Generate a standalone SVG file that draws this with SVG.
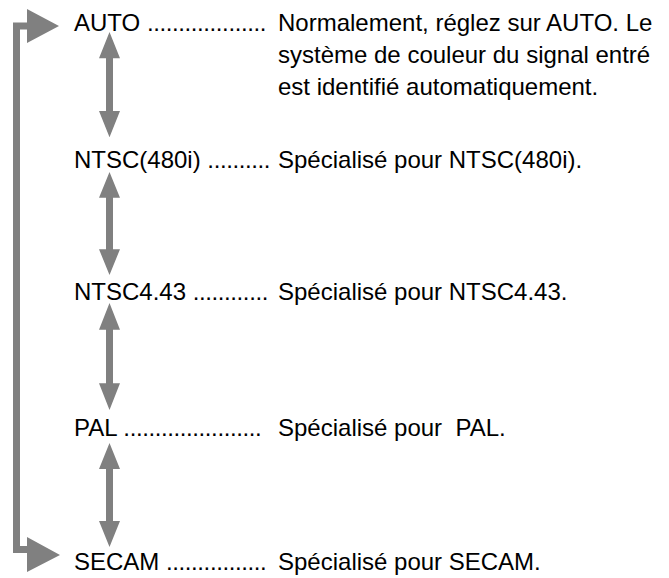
<svg xmlns="http://www.w3.org/2000/svg" width="669" height="578" viewBox="0 0 669 578">
<style>
text{font-family:"Liberation Sans",Arial,sans-serif;font-size:24px;fill:#000;white-space:pre}
.d{letter-spacing:-0.4px}
.c{fill:#808080;stroke:none}
</style>
<defs>
<path id="dbl" d="M0,0 L10.5,26 L3.5,26 L3.5,78 L10.5,78 L0,104 L-10.5,78 L-3.5,78 L-3.5,26 L-10.5,26 Z"/>
</defs>
<rect width="669" height="578" fill="#fff"/>
<g id="connectors" class="c">
<path d="M13,22.5 L27,22.5 L27,9 L59,26 L27,43 L27,29.5 L20,29.5 L20,546 L27,546 L27,537 L60,555 L27,572 L27,553 L13,553 Z"/>
<use href="#dbl" transform="translate(109.5,32) scale(1,1.012)"/>
<use href="#dbl" transform="translate(109.5,172) scale(1,0.99)"/>
<use href="#dbl" transform="translate(109.5,303) scale(1,1.03)"/>
<use href="#dbl" transform="translate(109.5,443) scale(1,1)"/>
</g>
<g id="auto"><text x="74" y="31">AUTO <tspan class="d">...................</tspan></text>
<text x="278" y="31">Normalement, réglez sur AUTO. Le</text>
<text x="278" y="63">système de couleur du signal entré</text>
<text x="278" y="95">est identifié automatiquement.</text></g>
<g id="ntsc480i"><text x="74" y="168">NTSC(480i) <tspan class="d">..........</tspan></text>
<text x="278" y="168">Spécialisé pour NTSC(480i).</text></g>
<g id="ntsc443"><text x="74" y="300">NTSC4.43 <tspan class="d">............</tspan></text>
<text x="278" y="300">Spécialisé pour NTSC4.43.</text></g>
<g id="pal"><text x="74" y="436">PAL <tspan class="d">......................</tspan></text>
<text x="278" y="436">Spécialisé pour  PAL.</text></g>
<g id="secam"><text x="74" y="570">SECAM <tspan class="d">................</tspan></text>
<text x="278" y="570">Spécialisé pour SECAM.</text></g>
</svg>
